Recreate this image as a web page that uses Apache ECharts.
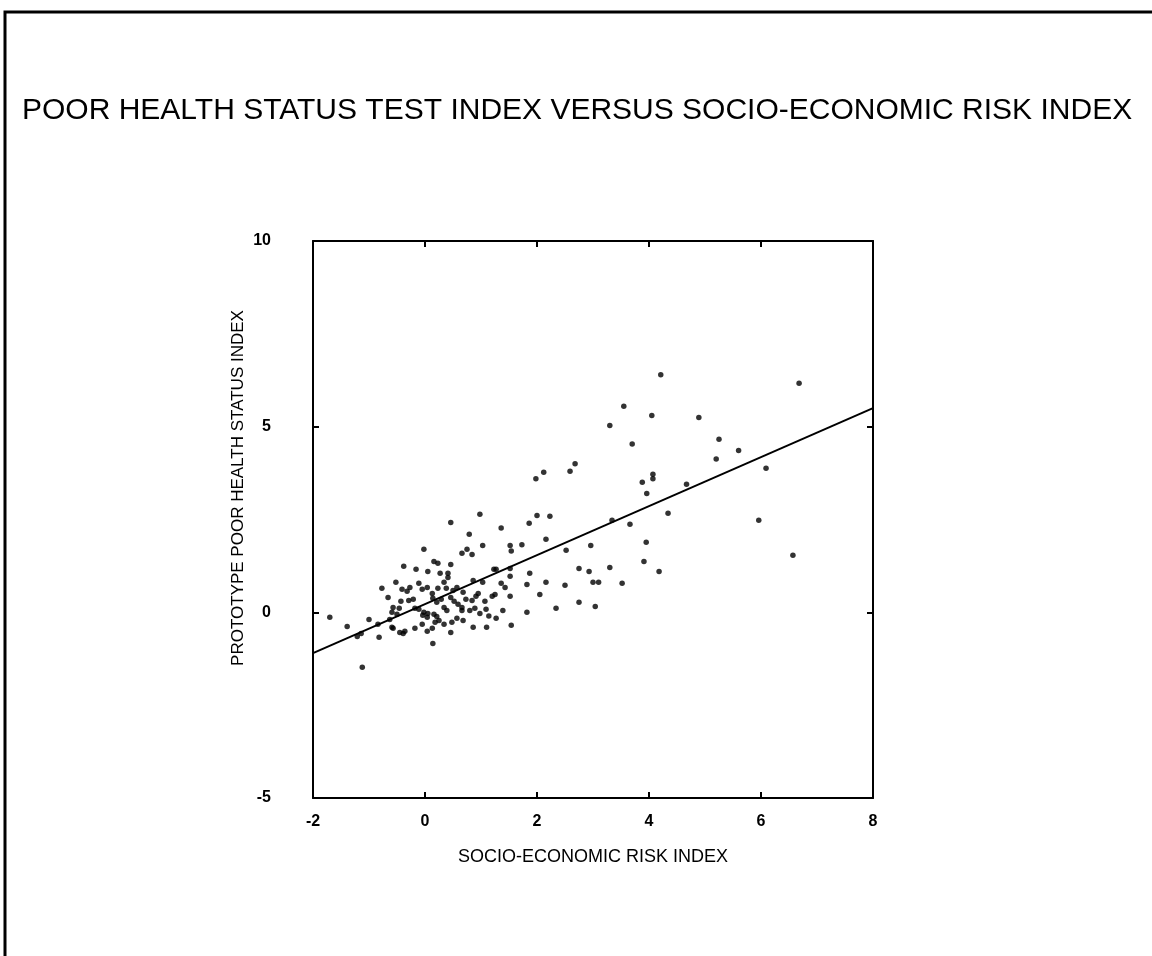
<!DOCTYPE html>
<html>
<head>
<meta charset="utf-8">
<script src="https://cdn.jsdelivr.net/npm/echarts@6/dist/echarts.min.js"></script>
<style>
  html, body { margin: 0; padding: 0; background: #fff; }
  #chart { width: 1152px; height: 956px; }
</style>
</head>
<body>
<div id="chart"></div>
<script>
// Socio-economic risk index (x) for each area
const riskX = [
  -1.7, -1.39, -1.0, -1.14, -1.21, -0.84, -0.82, -0.63, -0.59, -0.57, -1.12,
  -0.45, -0.39, -0.36, -0.18, 0.04, 0.13, -0.05, 0.18, 0.34, 0.48, 0.57, 0.68, 0.86, 0.46, 0.14,
  -0.57, -0.59, -0.46, -0.5, -0.18, -0.11, -0.02, 0.05, -0.04, 0.04, 0.16, 0.21, 0.25, 0.34, 0.39, 0.8, 0.89, 1.09, 0.66, 0.66,
  -0.29, -0.21, -0.43, 0.14, 0.21, 0.29, 0.46, 0.52, 0.59, 0.73, 0.84, 0.91, 1.2,
  -0.41, -0.32, -0.27, -0.11, -0.05, 0.04, 0.13, 0.34, 0.38, 0.23, 0.5, 0.57, 0.68, 0.95,
  -0.52, -0.77, -0.66,
  0.86, 1.23, -0.02, 0.66, 0.75, 0.84, 0.16, 0.23, 0.46, -0.38, -0.16, 0.05, 0.27, 0.41, 0.41,
  0.46, 0.79,
  0.98, 1.36, 1.86, 2.0, 2.23, 2.16, 1.03, 1.52, 1.73, 1.54, 2.96, 2.52, 1.27, 1.52, 1.87, 2.75, 2.93, 3.3,
  1.03, 1.36, 1.43, 1.52, 1.82, 2.16, 2.5, 3.0, 3.1, 3.52, 1.07, 1.25, 1.52, 2.05, 2.75, 3.04, 2.34, 1.82,
  1.39, 0.98, 1.14, 1.27, 1.1, 1.54,
  2.12, 1.98, 2.59, 2.68, 3.3, 3.55, 3.7, 3.34, 3.66,
  4.21, 6.68, 4.05, 4.89, 5.25, 5.6, 5.2, 6.09, 3.88, 4.07, 4.07, 3.96, 4.67, 4.34, 5.96, 3.95, 3.91, 4.18, 6.57
];

// Prototype poor health status index (y) for each area
const healthY = [
  -0.13, -0.38, -0.19, -0.57, -0.65, -0.32, -0.67, -0.19, -0.4, -0.43, -1.48,
  -0.54, -0.57, -0.51, -0.43, -0.51, -0.43, -0.32, -0.27, -0.32, -0.27, -0.16, -0.22, -0.4, -0.54, -0.84,
  0.13, 0.0, 0.11, -0.05, 0.11, 0.08, 0.0, -0.03, -0.08, -0.13, -0.05, -0.11, -0.22, 0.13, 0.05, 0.05, 0.11, 0.08, 0.13, 0.05,
  0.32, 0.35, 0.3, 0.38, 0.27, 0.35, 0.4, 0.3, 0.22, 0.35, 0.32, 0.43, 0.43,
  0.62, 0.57, 0.67, 0.78, 0.62, 0.67, 0.51, 0.81, 0.65, 0.65, 0.59, 0.67, 0.54, 0.51,
  0.81, 0.65, 0.4,
  0.86, 1.16, 1.7, 1.59, 1.7, 1.56, 1.37, 1.32, 1.29, 1.24, 1.16, 1.1, 1.05, 1.05, 0.94,
  2.42, 2.1,
  2.64, 2.27, 2.4, 2.61, 2.59, 1.97, 1.8, 1.8, 1.82, 1.65, 1.8, 1.67, 1.16, 1.18, 1.05, 1.18, 1.1, 1.21,
  0.81, 0.78, 0.67, 0.97, 0.75, 0.81, 0.73, 0.81, 0.81, 0.78, 0.3, 0.48, 0.43, 0.48, 0.27, 0.16, 0.11, 0.0,
  0.05, -0.03, -0.1, -0.16, -0.4, -0.35,
  3.77, 3.6, 3.8, 4.0, 5.03, 5.55, 4.53, 2.48, 2.37,
  6.4, 6.17, 5.3, 5.25, 4.66, 4.36, 4.13, 3.88, 3.5, 3.6, 3.72, 3.2, 3.45, 2.67, 2.48, 1.89, 1.37, 1.1, 1.54
];

// Fitted regression line endpoints
const fitX = [-2, 8];
const fitY = [-1.1, 5.5];

// Axis tick settings
const xTicks = { min: -2, max: 8, step: 2 };
const yTicks = { min: -5, max: 10, step: 5 };

const points = riskX.map((x, i) => [x, healthY[i]]);
const fitLine = fitX.map((x, i) => [x, fitY[i]]);

const FONT = "'Liberation Sans', Arial, sans-serif";
const chart = echarts.init(document.getElementById('chart'), null, { renderer: 'canvas' });

const axisLine = { show: true, onZero: false, lineStyle: { color: '#000', width: 2 } };
const axisTick = { show: true, inside: true, length: 6, lineStyle: { color: '#000', width: 2 } };

chart.setOption({
  backgroundColor: '#fff',
  animation: false,
  title: {
    text: 'POOR HEALTH STATUS TEST INDEX VERSUS SOCIO-ECONOMIC RISK INDEX',
    left: 17,
    top: 91,
    textStyle: { fontFamily: FONT, fontSize: 30, fontWeight: 'normal', color: '#000' }
  },
  grid: { left: 313, top: 241, width: 560, height: 557, show: false },
  xAxis: [
    {
      type: 'value', position: 'bottom',
      min: xTicks.min, max: xTicks.max, interval: xTicks.step,
      name: 'SOCIO-ECONOMIC RISK INDEX', nameLocation: 'middle', nameGap: 50,
      nameTextStyle: { fontFamily: FONT, fontSize: 18, color: '#000' },
      axisLine, axisTick,
      axisLabel: { fontFamily: FONT, fontSize: 16, fontWeight: 'bold', color: '#000', margin: 16 },
      splitLine: { show: false }
    },
    {
      type: 'value', position: 'top',
      min: xTicks.min, max: xTicks.max, interval: xTicks.step,
      axisLine, axisTick, axisLabel: { show: false }, splitLine: { show: false }
    }
  ],
  yAxis: [
    {
      type: 'value', position: 'left',
      min: yTicks.min, max: yTicks.max, interval: yTicks.step,
      axisLine, axisTick,
      axisLabel: { fontFamily: FONT, fontSize: 16, fontWeight: 'bold', color: '#000', margin: 42 },
      splitLine: { show: false }
    },
    {
      type: 'value', position: 'right',
      min: yTicks.min, max: yTicks.max, interval: yTicks.step,
      axisLine, axisTick, axisLabel: { show: false }, splitLine: { show: false }
    }
  ],
  series: [
    {
      type: 'scatter',
      data: points,
      symbol: 'circle',
      symbolSize: 5.5,
      itemStyle: { color: '#000' },
      z: 3
    },
    {
      type: 'line',
      data: fitLine,
      symbol: 'none',
      lineStyle: { color: '#000', width: 2 },
      z: 4
    }
  ],
  graphic: [
    {
      type: 'text',
      x: 238, y: 488,
      rotation: Math.PI / 2,
      style: {
        text: 'PROTOTYPE POOR HEALTH STATUS INDEX',
        fontFamily: FONT, fontSize: 17, fill: '#000',
        align: 'center', verticalAlign: 'middle'
      }
    },
    {
      type: 'polyline',
      shape: { points: [[5, 956], [5, 12], [1152, 12]] },
      style: { stroke: '#000', lineWidth: 3, fill: null }
    }
  ]
});
</script>
</body>
</html>
